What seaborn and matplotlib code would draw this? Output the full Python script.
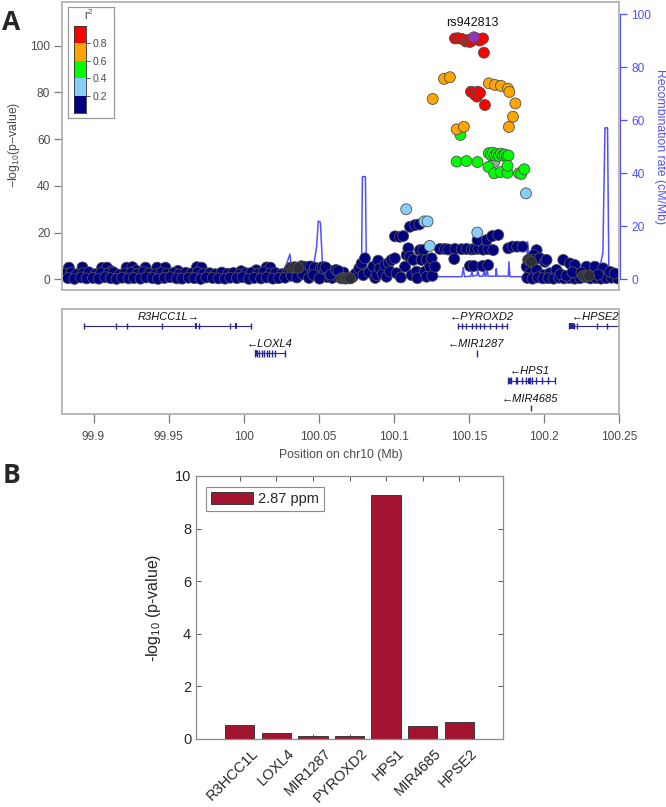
import numpy as np
import pandas as pd
import matplotlib
matplotlib.use("Agg")
import matplotlib.pyplot as plt
import matplotlib.transforms as mtransforms
from matplotlib.colors import ListedColormap
from matplotlib.patches import Patch
import seaborn as sns

sns.set_style("white")
plt.rcParams['font.family'] = ['Liberation Sans', 'DejaVu Sans']
plt.rcParams['mathtext.default'] = 'regular'

# ---------------- panel A: regional association (Mb, -log10 p) ----------------
lead_snp = 'rs942813'
lead_pos = [100.1526]
lead_logp = [103.6]

red_pos = [100.1400, 100.1420, 100.1446, 100.1473, 100.1486, 100.1499, 100.1512, 100.1546,
           100.1566, 100.1586, 100.1592, 100.1506, 100.1519, 100.1532, 100.1546, 100.1552,
           100.1566, 100.1599]
red_logp = [103.1, 103.2, 102.9, 101.8, 102.4, 101.6, 102.1, 103.0,
            102.2, 103.1, 97.0, 80.3, 80.0, 79.0, 78.2, 80.3,
            79.8, 74.6]

orange_pos = [100.1327, 100.1366, 100.1252, 100.1625, 100.1665, 100.1705, 100.1751, 100.1761,
              100.1801, 100.1785, 100.1758, 100.1411, 100.1459]
orange_logp = [85.8, 86.5, 77.2, 83.9, 83.2, 82.8, 81.6, 80.2,
               75.3, 69.6, 65.2, 64.2, 65.3]

green_pos = [100.1436, 100.1625, 100.1638, 100.1651, 100.1665, 100.1678, 100.1691, 100.1705,
             100.1718, 100.1731, 100.1745, 100.1755, 100.1411, 100.1476, 100.1549, 100.1622,
             100.1660, 100.1703, 100.1749, 100.1749, 100.1825, 100.1840, 100.1860]
green_logp = [61.8, 54.0, 53.2, 54.2, 53.0, 53.6, 52.8, 53.8,
              53.0, 53.4, 52.6, 53.0, 50.4, 50.6, 50.2, 48.1,
              45.4, 45.9, 45.6, 48.6, 45.4, 45.1, 47.1]

lightblue_pos = [100.1076, 100.1196, 100.1218, 100.1232, 100.1548, 100.1871]
lightblue_logp = [30.0, 24.8, 24.8, 14.3, 20.0, 36.8]

na_pos = [100.1660]
na_logp = [50.3]

dark_pos = [100.0645, 100.0660, 100.0675, 100.0690, 100.0705, 100.1886, 100.1905,
            100.2250, 100.2270, 100.2290, 100.0310, 100.0335, 100.0360]
dark_logp = [0.4, 0.5, 0.3, 0.5, 0.4, 8.3, 7.6,
             1.5, 1.2, 1.6, 5.0, 5.2, 4.9]

navy_pos = [
    99.8836, 99.8926, 99.9056, 99.9089, 99.9219, 99.9258, 99.9345, 99.9422, 99.9477, 99.9686,
    99.9717, 100.0149, 100.0174, 99.9280, 99.9560, 100.0080, 99.9980, 99.9120,
    99.8810, 99.8852, 99.8888, 99.8931, 99.8969, 99.9012, 99.9049, 99.9096, 99.9133, 99.9172,
    99.9208, 99.9251, 99.9289, 99.9332, 99.9368, 99.9411, 99.9452, 99.9488, 99.9531, 99.9568,
    99.9612, 99.9649, 99.9691, 99.9729, 99.9772, 99.9808, 99.9851, 99.9892, 99.9928, 99.9971,
    100.0012, 100.0048, 100.0091, 100.0129, 100.0172, 100.0208, 100.0251, 100.0287,
    99.8830, 99.8873, 99.8916, 99.8953, 99.8996, 99.9034, 99.9077, 99.9113, 99.9152, 99.9189,
    99.9232, 99.9268, 99.9311, 99.9349, 99.9392, 99.9428, 99.9471, 99.9509, 99.9552, 99.9588,
    99.9631, 99.9669, 99.9712, 99.9748, 99.9791, 99.9829, 99.9872, 99.9908, 99.9951, 99.9989,
    100.0031, 100.0068, 100.0112, 100.0149, 100.0191, 100.0229, 100.0271,
    100.0300, 100.0345, 100.0380, 100.0400, 100.0420, 100.0440, 100.0455, 100.0470, 100.0490,
    100.0510, 100.0523, 100.0530, 100.0550, 100.0565, 100.0585, 100.0590, 100.0600, 100.0620,
    100.0640, 100.0660, 100.0315, 100.0350, 100.0390, 100.0430, 100.0460, 100.0500, 100.0540,
    100.0575, 100.0610, 100.0625,
    100.0720, 100.0740, 100.0764, 100.0780, 100.0802, 100.0791, 100.0830, 100.0857, 100.0870,
    100.0880, 100.0890, 100.0902, 100.0920, 100.0935, 100.0946, 100.0960, 100.0968, 100.0979,
    100.1001, 100.1012, 100.1040, 100.1001, 100.1034, 100.1056, 100.1101, 100.1134, 100.1163,
    100.1068, 100.1079, 100.1090, 100.1101, 100.1112, 100.1123, 100.1145, 100.1150, 100.1167,
    100.1189, 100.1178, 100.1200, 100.1211, 100.1211, 100.1234, 100.1245, 100.1250, 100.1267,
    100.1300, 100.1333, 100.1355, 100.1400, 100.1444, 100.1477, 100.1510, 100.1532, 100.1555,
    100.1588, 100.1621, 100.1654, 100.1395, 100.1499, 100.1525, 100.1583, 100.1620, 100.1550,
    100.1610, 100.1647, 100.1687,
    100.1754, 100.1783, 100.1813, 100.1849, 100.1942, 100.1924, 100.1920, 100.1964, 100.1997,
    100.2008, 100.1876, 100.1898, 100.1942, 100.1986, 100.2030, 100.2074, 100.2119, 100.2163,
    100.2196, 100.2218, 100.2273, 100.2329, 100.2384, 100.2417, 100.2473,
    100.1880, 100.1915, 100.1950, 100.1985, 100.2020, 100.2055, 100.2090, 100.2125, 100.2160,
    100.2195, 100.2230, 100.2265, 100.2300, 100.2335, 100.2370, 100.2405, 100.2440, 100.2480,
    100.2100, 100.2140, 100.2180, 100.2240, 100.2350, 100.2430, 100.2460,
]
navy_logp = [
    5.0, 5.1, 4.9, 5.0, 5.0, 5.2, 5.0, 5.0, 5.0, 5.2,
    5.0, 5.1, 5.0, 3.8, 3.6, 3.9, 3.5, 3.4,
    2.4, 2.8, 2.1, 2.6, 3.0, 2.2, 2.7, 2.5, 2.9, 2.0,
    2.6, 2.8, 2.3, 3.1, 2.5, 2.2, 2.9, 2.4, 2.7, 2.1,
    2.8, 2.5, 3.0, 2.3, 2.6, 2.2, 2.9, 2.4, 2.7, 2.1,
    2.6, 2.8, 2.3, 3.0, 2.5, 2.7, 2.2, 2.9,
    0.5, 0.2, 0.8, 0.4, 0.6, 0.3, 0.9, 0.5, 0.2, 0.7,
    0.4, 0.6, 0.3, 0.8, 0.5, 0.2, 0.6, 0.9, 0.4, 0.3,
    0.7, 0.5, 0.2, 0.8, 0.6, 0.4, 0.3, 0.7, 0.5, 0.9,
    0.2, 0.6, 0.4, 0.8, 0.3, 0.5, 0.7,
    4.2, 3.0, 5.6, 5.4, 5.3, 5.5, 3.2, 5.0, 1.6,
    4.9, 5.3, 2.4, 1.0, 3.8, 0.6, 3.0, 2.6, 1.2,
    2.0, 2.9, 1.5, 0.8, 2.2, 0.6, 1.8, 0.3, 5.1,
    2.0, 4.0, 3.6,
    1.0, 2.4, 4.7, 6.8, 9.0, 1.8, 3.0, 5.4, 0.6,
    1.8, 8.0, 4.7, 2.4, 6.1, 1.1, 7.0, 3.3, 8.3,
    9.0, 2.6, 0.8, 18.4, 18.2, 18.5, 22.5, 23.2, 23.5,
    5.4, 10.4, 13.3, 9.7, 1.8, 8.3, 3.3, 0.5, 12.5,
    12.5, 8.3, 3.3, 8.3, 1.1, 5.4, 9.0, 1.5, 5.4,
    13.0, 13.0, 12.8, 13.0, 12.9, 13.0, 12.8, 13.0, 13.1,
    12.7, 12.9, 12.5, 8.7, 5.7, 5.7, 5.7, 6.1, 16.8,
    16.8, 18.5, 19.0,
    13.3, 14.0, 14.0, 14.0, 12.5, 10.4, 8.3, 9.0, 7.5,
    8.3, 5.4, 2.6, 4.0, 1.8, 2.6, 4.0, 8.3, 6.8,
    6.1, 1.8, 5.4, 5.4, 4.7, 1.8, 1.8,
    0.6, 0.3, 0.8, 0.4, 0.5, 0.3, 0.7, 0.4, 0.6,
    0.3, 0.5, 0.9, 0.4, 0.6, 0.3, 0.5, 0.7, 0.4,
    2.2, 1.5, 3.0, 2.8, 2.0, 3.2, 2.5,
]

# recombination rate (cM/Mb)
recomb_pos = [99.879, 99.900, 99.930, 99.960, 99.990, 100.020, 100.0249, 100.0304, 100.0319,
              100.0404, 100.0437, 100.0459, 100.0481, 100.0492, 100.0506, 100.0521, 100.0623,
              100.0636, 100.0649, 100.0669, 100.0779, 100.0785, 100.0805, 100.0812, 100.1234,
              100.1300, 100.1446, 100.1455, 100.1463, 100.1506, 100.1512, 100.1519, 100.1546,
              100.1552, 100.1559, 100.1586, 100.1592, 100.1599, 100.1606, 100.1610, 100.1619,
              100.1670, 100.1674, 100.1679, 100.1754, 100.1758, 100.1765, 100.1871, 100.1882,
              100.1898, 100.1964, 100.2097, 100.2230, 100.2362, 100.2382, 100.2396, 100.2413,
              100.2422, 100.2489]
recomb_rate = [1.0, 0.8, 1.2, 0.6, 1.0, 0.8, 0.6, 9.5, 1.6,
               1.6, 6.0, 4.5, 12.3, 22.0, 21.5, 4.5, 4.1,
               2.9, 2.3, 1.6, 2.3, 38.7, 38.7, 1.6, 1.4,
               1.0, 1.0, 4.5, 1.0, 1.2, 3.0, 1.2, 1.5,
               3.5, 1.2, 1.2, 3.5, 1.2, 1.2, 6.0, 1.2,
               1.2, 4.0, 1.2, 1.2, 6.6, 1.0, 1.0, 14.2,
               3.5, 2.5, 2.0, 3.0, 4.7, 9.8, 57.1, 57.1,
               0.8, 0.6]

# genes track
gene_names = ['R3HCC1L', 'LOXL4', 'PYROXD2', 'MIR1287', 'HPS1', 'MIR4685', 'HPSE2']
gene_start = [99.8934, 100.0074, 100.1431, 100.1553, 100.1763, 100.1912, 100.2170]
gene_end = [100.0048, 100.0277, 100.1753, 100.1555, 100.2072, 100.1914, 100.2600]
gene_row = [1, 2, 1, 2, 3, 4, 1]
gene_strand = ['+', '-', '-', '-', '-', '-', '-']
gene_label_x = [99.9497, 100.0176, 100.1585, 100.1545, 100.1904, 100.1904, 100.2343]

exons_R3HCC1L = [99.8934, 99.9152, 99.9223, 99.9457, 99.9705, 99.9910, 100.0048]
exons_LOXL4 = [100.0074, 100.0088, 100.0101, 100.0120, 100.0138, 100.0155, 100.0170,
               100.0188, 100.0207, 100.0277]
exons_PYROXD2 = [100.1431, 100.1452, 100.1479, 100.1519, 100.1545, 100.1572, 100.1604,
                 100.1638, 100.1678, 100.1718, 100.1753]
exons_MIR1287 = [100.1553]
exons_HPS1 = [100.1763, 100.1784, 100.1811, 100.1824, 100.1851, 100.1878, 100.1904,
              100.1918, 100.1944, 100.1984, 100.2030, 100.2072]
exons_MIR4685 = [100.1912]
exons_HPSE2 = [100.2170, 100.2202, 100.2223, 100.2356, 100.2423, 100.2503]
blocks_R3HCC1L = [(99.9676, 99.9692), (99.9944, 99.9957)]
blocks_LOXL4 = [(100.0074, 100.0086)]
blocks_HPS1 = [(100.1763, 100.1784), (100.1893, 100.1912)]
blocks_HPSE2 = [(100.2170, 100.2202)]

pos_ticks = [99.9, 99.95, 100.0, 100.05, 100.1, 100.15, 100.2, 100.25]
pos_tick_labels = ['99.9', '99.95', '100', '100.05', '100.1', '100.15', '100.2', '100.25']

r2_tick_labels = ['0.8', '0.6', '0.4', '0.2']

# ---------------- panel B ----------------
genes_b = ['R3HCC1L', 'LOXL4', 'MIR1287', 'PYROXD2', 'HPS1', 'MIR4685', 'HPSE2']
logp_b = [0.52, 0.21, 0.13, 0.13, 9.26, 0.49, 0.64]
ppm_label = '2.87 ppm'

# colours
r2_colors = {'navy': '#000080', 'dark': '#2e2e3a', 'na': '#a3a3a3', 'lightblue': '#87cefa',
             'green': '#00ff00', 'orange': '#ffa500', 'red': '#ff0000', 'lead': '#9632b8'}
recomb_color = '#5050ff'
gene_color = '#26269a'
bar_color = '#a2142f'
grey_txt = '#4a4a4a'

snps = pd.concat([
    pd.DataFrame({'pos': navy_pos, 'logp': navy_logp, 'r2': 'navy'}),
    pd.DataFrame({'pos': dark_pos, 'logp': dark_logp, 'r2': 'dark'}),
    pd.DataFrame({'pos': na_pos, 'logp': na_logp, 'r2': 'na'}),
    pd.DataFrame({'pos': lightblue_pos, 'logp': lightblue_logp, 'r2': 'lightblue'}),
    pd.DataFrame({'pos': green_pos, 'logp': green_logp, 'r2': 'green'}),
    pd.DataFrame({'pos': orange_pos, 'logp': orange_logp, 'r2': 'orange'}),
    pd.DataFrame({'pos': red_pos, 'logp': red_logp, 'r2': 'red'}),
    pd.DataFrame({'pos': lead_pos, 'logp': lead_logp, 'r2': 'lead'}),
], ignore_index=True)

fig = plt.figure(figsize=(6.66, 8.07), dpi=100)

# ---- A: locus plot ----
axA = fig.add_axes([0.0931, 0.6406, 0.8363, 0.3575])
axR = axA.twinx()
sns.lineplot(x=recomb_pos, y=recomb_rate, ax=axR, color=recomb_color, linewidth=1.1,
             estimator=None)
axA.set_zorder(axR.get_zorder() + 1)
axA.patch.set_visible(False)

sns.scatterplot(data=snps, x='pos', y='logp', hue='r2', palette=r2_colors, s=62,
                edgecolor='#505050', linewidth=0.6, legend=False, ax=axA)
axA.annotate(lead_snp, (lead_pos[0], lead_logp[0]), xytext=(-1, 6), textcoords='offset points',
             ha='center', va='bottom', fontsize=9, color='#111111')

axA.set_xlim(99.879, 100.2489)
axA.set_ylim(-4.58, 118.9)
axA.set_xticks([])
axA.set_yticks([0, 20, 40, 60, 80, 100])
axA.set_xlabel('')
axA.set_ylabel('\u2212log$_{10}$(p\u2212value)', fontsize=8.8, color=grey_txt)
axA.yaxis.set_label_coords(-0.072, 0.504)
axA.tick_params(axis='y', left=True, direction='out', length=5.5, width=0.9, color='#7a7a7a',
                labelsize=8.6, labelcolor=grey_txt, pad=3)
for sp in axA.spines.values():
    sp.set_color('#b3b3b3')
    sp.set_linewidth(1.3)

axR.set_ylim(-4.03, 104.7)
axR.set_yticks([0, 20, 40, 60, 80, 100])
axR.set_ylabel('')
axR.tick_params(axis='y', right=True, direction='out', length=5, width=0.9, color=recomb_color,
                labelsize=8.6, labelcolor=recomb_color, pad=3)
for side in ['top', 'left', 'bottom']:
    axR.spines[side].set_visible(False)
axR.spines['right'].set_color(recomb_color)
axR.spines['right'].set_bounds(0, 100)
axR.spines['right'].set_position(('outward', 1))
axA.text(1.0736, 0.497, 'Recombination rate (cM/Mb)', transform=axA.transAxes, rotation=270,
         ha='center', va='center', fontsize=8.8, color=recomb_color)

# r2 legend
legF = axA.inset_axes([0.0108, 0.596, 0.0826, 0.385])
legF.set_xticks([])
legF.set_yticks([])
legF.set_facecolor('white')
for sp in legF.spines.values():
    sp.set_color('#9a9a9a')
    sp.set_linewidth(0.9)
legF.text(0.45, 0.925, 'r$^2$', transform=legF.transAxes, ha='center', va='center',
          fontsize=8.4, color=grey_txt)

legC = axA.inset_axes([0.0215, 0.6135, 0.0216, 0.3015])
legend_codes = pd.DataFrame({'r2': [4, 3, 2, 1, 0]})
sns.heatmap(legend_codes, cmap=ListedColormap([r2_colors['navy'], r2_colors['lightblue'],
                                               r2_colors['green'], r2_colors['orange'],
                                               r2_colors['red']]),
            vmin=-0.5, vmax=4.5, cbar=False, xticklabels=False, yticklabels=False, ax=legC)
legC.set_yticks([1, 2, 3, 4])
legC.set_yticklabels(r2_tick_labels)
legC.yaxis.tick_right()
legC.tick_params(axis='y', right=True, left=False, length=3, width=0.7, color='#555555',
                 labelsize=7.6, labelcolor=grey_txt, pad=1.5, labelrotation=0)
legC.set_ylabel('')
legC.set_xlabel('')
for sp in legC.spines.values():
    sp.set_visible(True)
    sp.set_color('#303030')
    sp.set_linewidth(0.6)

# ---- A: gene track ----
axG = fig.add_axes([0.0931, 0.4870, 0.8363, 0.1301])
gene_exons = {'R3HCC1L': exons_R3HCC1L, 'LOXL4': exons_LOXL4, 'PYROXD2': exons_PYROXD2,
              'MIR1287': exons_MIR1287, 'HPS1': exons_HPS1, 'MIR4685': exons_MIR4685,
              'HPSE2': exons_HPSE2}
gene_blocks = {'R3HCC1L': blocks_R3HCC1L, 'LOXL4': blocks_LOXL4, 'HPS1': blocks_HPS1,
               'HPSE2': blocks_HPSE2}
for name, start, end, row, strand, lx in zip(gene_names, gene_start, gene_end, gene_row,
                                             gene_strand, gene_label_x):
    axG.hlines(row, start, end, color=gene_color, lw=0.8)
    axG.vlines(gene_exons[name], row - 0.12, row + 0.12, color=gene_color, lw=1.0)
    for s, e in gene_blocks.get(name, []):
        axG.hlines(row, s, e, color=gene_color, lw=4.2)
    label = name + '\u2192' if strand == '+' else '\u2190' + name
    axG.text(lx, row - 0.34, label, ha='center', va='center', fontsize=8, style='italic',
             color='#111111')

axG.set_xlim(99.879, 100.2489)
axG.set_ylim(4.22, 0.377)
axG.set_yticks([])
axG.set_xticks(pos_ticks)
axG.set_xticklabels(pos_tick_labels)
axG.tick_params(axis='x', bottom=True, direction='out', length=6.5, width=0.9, color='#7a7a7a',
                labelsize=8.6, labelcolor=grey_txt, pad=6)
axG.set_xlabel('Position on chr10 (Mb)', fontsize=8.8, color=grey_txt, labelpad=4)
for sp in axG.spines.values():
    sp.set_color('#b3b3b3')
    sp.set_linewidth(1.3)

# ---- B: bar chart ----
axB = fig.add_axes([0.2943, 0.0843, 0.4610, 0.3259])
bars = pd.DataFrame({'gene': genes_b, 'logp': logp_b})
sns.barplot(data=bars, x='gene', y='logp', order=genes_b, color=bar_color, saturation=1,
            width=0.8, edgecolor='#3a3a3a', linewidth=0.7, ax=axB)
axB.set_xlim(-1.2, 7.2)
axB.set_ylim(0, 10)
axB.set_yticks([0, 2, 4, 6, 8, 10])
axB.set_xlabel('')
axB.set_ylabel('-log$_{10}$ (p-value)', fontsize=11.5, color='#262626')
axB.yaxis.set_label_coords(-0.108, 0.5)
axB.tick_params(direction='in', length=3.5, width=0.7, color='#555555', top=True, right=True,
                bottom=True, left=True, labelsize=10.5, labelcolor='#262626')
axB.tick_params(axis='x', pad=5)
for sp in axB.spines.values():
    sp.set_color('#8c8c8c')
    sp.set_linewidth(0.9)
offset = mtransforms.ScaledTranslation(8 / 72, 0, fig.dpi_scale_trans)
for lbl in axB.get_xticklabels():
    lbl.set_rotation(45)
    lbl.set_ha('right')
    lbl.set_rotation_mode('anchor')
    lbl.set_transform(lbl.get_transform() + offset)
leg = axB.legend(handles=[Patch(facecolor=bar_color, edgecolor='#3a3a3a', linewidth=0.7)],
                 labels=[ppm_label], loc='upper left', bbox_to_anchor=(0.0326, 0.958),
                 borderaxespad=0, fancybox=False, edgecolor='#8c8c8c', fontsize=10.5,
                 handlelength=2.9, handleheight=0.9, handletextpad=0.3, borderpad=0.35,
                 framealpha=1)
leg.get_frame().set_linewidth(0.8)

fig.text(0.0165, 1 - 23 / 807, 'A', fontsize=19, fontweight='bold',
         family=['Open Sans', 'DejaVu Sans'], ha='center', va='center')
fig.text(0.018, 1 - 475 / 807, 'B', fontsize=19, fontweight='bold',
         family=['Open Sans', 'DejaVu Sans'], ha='center', va='center')

fig.savefig('out.png', dpi=100)
